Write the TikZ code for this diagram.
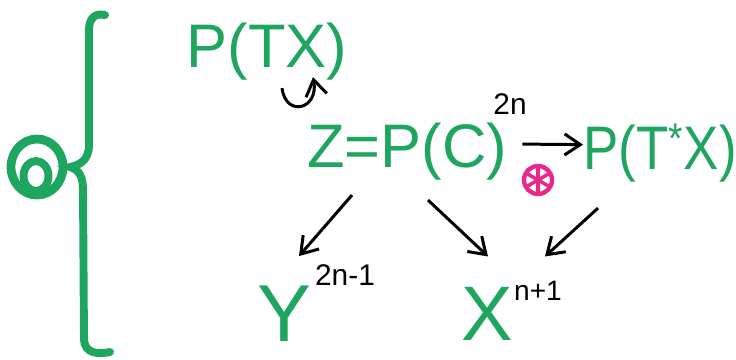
\documentclass[tikz,border=0pt]{standalone}
\usepackage{fontspec}
\setmainfont{Liberation Sans}
\usetikzlibrary{arrows.meta,calc}
\definecolor{marker}{RGB}{30,165,95}
\definecolor{pinkish}{RGB}{232,40,140}
\def \lettersize{\fontsize{35}{40}\selectfont}
\def \supsize{\fontsize{17}{20}\selectfont}

\begin{document}
\begin{tikzpicture}[x=0.02cm, y=-0.02cm, >={Straight Barb[length=9pt,width=12pt]}]
    \useasboundingbox (0,0) rectangle (736,359);
    % ring and brace
    \draw[marker, line width=5pt] (37,167) circle [x radius=0.52cm, y radius=0.56cm];
    \draw[marker, line width=4.5pt] (36,176) circle [x radius=0.25cm, y radius=0.3cm];
    \draw[marker, line width=4.5pt, line cap=round]
      (105,15) .. controls (92,12) and (88,22) .. (89,35) -- (89,145)
      .. controls (89,160) and (80,165) .. (70,167)
      .. controls (80,170) and (83,178) .. (83,190) -- (84,340)
      .. controls (85,352) and (95,355) .. (110,352);
    % spaces
    \node[anchor=base, inner sep=0pt, text=marker, font=\lettersize] (PTX) at (267,67) {P(TX)};
    \node[anchor=base, inner sep=0pt, text=marker, font=\lettersize] (ZPC) at (407,167) {Z=P(C)};
    \node[anchor=base, inner sep=0pt, font=\supsize] (sup2n) at (510,114) {2n};
    \node[anchor=base, inner sep=0pt, text=marker, font=\lettersize] (PTsX) at (660,169) {\scalebox{0.86}[1]{P(T\textsuperscript{*}X)}};
    \node[anchor=base, inner sep=0pt, text=marker, font=\fontsize{46}{50}\selectfont] (Y) at (284,341) {Y};
    \node[anchor=base, inner sep=0pt, font=\supsize] (sup2n1) at (345,285) {2n-1};
    \node[anchor=base, inner sep=0pt, text=marker, font=\fontsize{44}{50}\selectfont] (X) at (487,340) {X};
    \node[anchor=base, inner sep=0pt, font=\fontsize{16}{18}\selectfont] (supn1) at (538,300) {n+1};
    \node[draw=pinkish, circle, line width=2.5pt, minimum size=0.56cm, inner sep=0pt] (ostar) at (538,180) {};
    \foreach \a/\b in {90/270, 30/210, 150/330}
      \draw[pinkish, line width=2pt] ($(ostar)!0.75!(ostar.\a)$) -- ($(ostar)!0.75!(ostar.\b)$);
    % maps
    \draw[->, line width=1.7pt] ($(PTX.south)+(15,8)$) .. controls +(4,30) and +(6,32) .. ($(PTX.south)+(46,-3)$);
    \draw[->, line width=1.7pt] ($(ZPC.east)+(15,-7)$) -- ($(PTsX.west)+(0,-8)$);
    \draw[->, line width=1.7pt] ($(ZPC.south)+(-55,15)$) -- ($(Y.north)+(15,-29)$);
    \draw[->, line width=1.7pt] ($(ZPC.south)+(21,20)$) -- ($(X.north)+(1,-30)$);
    \draw[->, line width=1.7pt] ($(PTsX.south)+(-62,26)$) -- ($(X.north)+(58,-30)$);
\end{tikzpicture}
\end{document}
